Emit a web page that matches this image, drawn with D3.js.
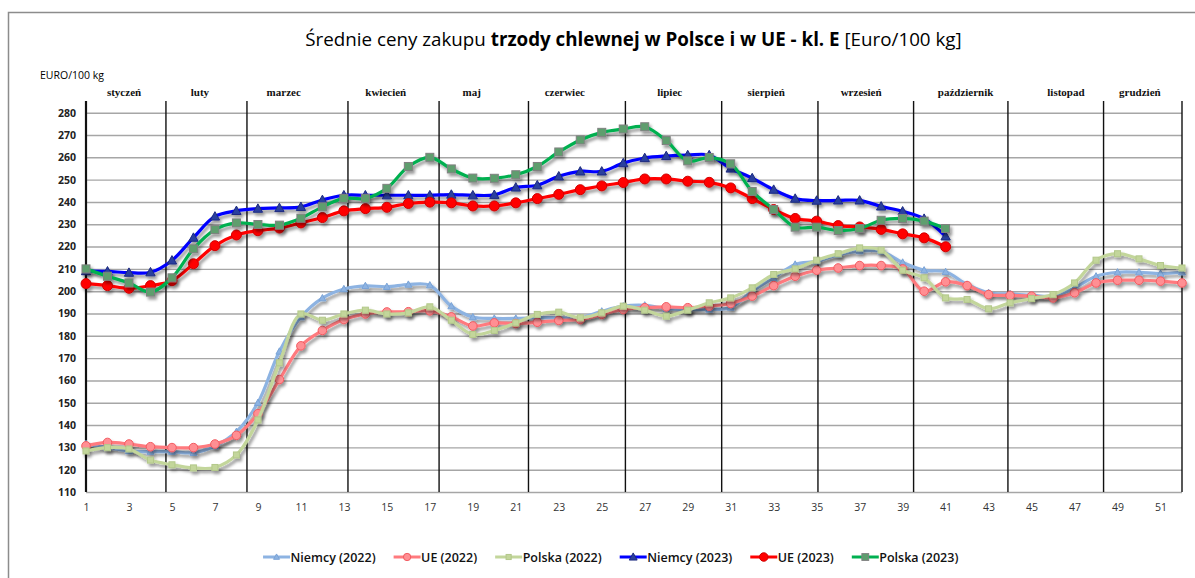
<!DOCTYPE html>
<html>
<head>
<meta charset="utf-8">
<script src="https://cdn.jsdelivr.net/npm/d3@7"></script>
<style>
  body { margin: 0; background: #fff; }
  svg { display: block; font-family: "Open Sans", sans-serif; }
</style>
</head>
<body>
<div class="chart"></div>
<script>
// --- data (weekly prices, EURO/100 kg) ---
const niemcy2022 = [131.6, 129.9, 128.4, 128.1, 128.1, 127.6, 130.6, 137, 150, 173, 188.4, 196.9, 201, 202.4, 202, 203, 202.7, 193.3, 188.4, 187.8, 187.8, 188.1, 188.1, 188.1, 191, 193.3, 193.7, 192.2, 191.8, 191.8, 192.7, 200, 206, 212, 213.4, 216.4, 218, 217.9, 212.9, 209.4, 208.7, 203, 199.3, 198.8, 198.2, 197.8, 201.5, 206.7, 208.5, 208.5, 207.9, 208.5];
const ue2022 = [130.7, 132.2, 131.5, 130.3, 129.9, 129.9, 131.5, 135.4, 145.1, 160.4, 175.5, 182.4, 187.3, 189.8, 190.7, 190.8, 191.2, 188.5, 184.4, 185.8, 185.5, 186.1, 186.9, 187.3, 189.6, 191.8, 192.6, 193, 192.6, 193.3, 194.5, 197.8, 202.5, 206.7, 209.4, 210.4, 211.5, 211.5, 210, 200, 204.2, 202.5, 198.5, 198.1, 197.8, 197, 199.3, 203.7, 204.9, 204.9, 204.5, 203.7];
const polska2022 = [128.4, 129.9, 129.3, 124.3, 122.2, 120.8, 121, 126.6, 142.3, 167.9, 189.8, 187, 189.8, 191.5, 189.8, 190.3, 193, 187, 180.6, 182.4, 185.8, 189.6, 190.6, 188.1, 190.3, 193.3, 191.5, 188.8, 191.5, 194.8, 197, 201.5, 207.5, 210, 213.9, 216.8, 219.4, 218.4, 209.4, 206, 197, 196.3, 192.1, 194.8, 196.7, 198.5, 203.7, 213.9, 216.8, 214.5, 211.5, 210.4];
const niemcy2023 = [209, 208.9, 208.3, 208.5, 213.8, 224, 233.5, 236, 237, 237.3, 237.8, 240.9, 243, 243, 243, 243, 243, 243.3, 243, 243.2, 246.5, 247.5, 251.5, 253.7, 253.7, 257.4, 259.7, 260.6, 261, 261, 255, 250.7, 245.5, 241.5, 240.6, 240.7, 240.7, 238, 235.8, 232.5, 224.6];
const ue2023 = [203.4, 202.5, 201.3, 202.5, 204.7, 212.3, 220.4, 225.2, 227.1, 228.3, 230.6, 233, 236, 237, 237.6, 239.3, 239.9, 239.6, 238.2, 238.2, 239.6, 241.5, 243.4, 245.5, 247.2, 248.7, 250.3, 250.3, 249.3, 248.8, 246.3, 241.5, 236.6, 232.6, 231.4, 229.4, 228.8, 227.7, 225.7, 223.9, 219.9];
const polska2023 = [210, 206.7, 203.7, 199.6, 206, 219, 227.6, 230.6, 229.9, 229.6, 232.7, 237.8, 241.6, 241.6, 246.1, 255.9, 260, 254.8, 250.7, 250.6, 252.2, 255.9, 262.4, 267.8, 271.2, 272.7, 273.7, 267.5, 258.4, 259.9, 257.1, 244.7, 236.6, 228.7, 228.7, 227.2, 228.1, 231.8, 232.6, 231.4, 228.1];

const seriesNames = ["Niemcy (2022)", "UE (2022)", "Polska (2022)", "Niemcy (2023)", "UE (2023)", "Polska (2023)"];
const months = ["styczeń", "luty", "marzec", "kwiecień", "maj", "czerwiec", "lipiec", "sierpień", "wrzesień", "październik", "listopad", "grudzień"];
// month label centres and month boundaries, in week units
const monthLabelWeek = [2.77, 6.3, 10.2, 14.95, 18.95, 23.28, 28.16, 32.65, 37.07, 41.93, 46.6, 50.04];
const monthBounds = [1, 4.72, 8.49, 13.19, 17.43, 21.59, 26.1, 30.58, 35.06, 39.51, 43.9, 48.35, 52];
const yTicks = [110, 120, 130, 140, 150, 160, 170, 180, 190, 200, 210, 220, 230, 240, 250, 260, 270, 280];
const xTicks = [1, 3, 5, 7, 9, 11, 13, 15, 17, 19, 21, 23, 25, 27, 29, 31, 33, 35, 37, 39, 41, 43, 45, 47, 49, 51];

const W = 1195, H = 578;
const plot = { left: 86, right: 1182, top: 112.7, bottom: 492 };

const series = [
	{ name: seriesNames[0], values: niemcy2022, color: "#8db3e2", width: 3.2, shape: "tri", size: 6, fill: "#8db3e2", stroke: "#7aa3d6" },
	{ name: seriesNames[1], values: ue2022, color: "#ff7a7e", width: 3.2, shape: "circle", size: 4.3, fill: "#ff8f93", stroke: "#f25a60" },
	{ name: seriesNames[2], values: polska2022, color: "#c3d69b", width: 3.2, shape: "square", size: 6, fill: "#c3d69b", stroke: "#b3c88a" },
	{ name: seriesNames[3], values: niemcy2023, color: "#0000ff", width: 3.2, shape: "tri", size: 8, fill: "#2b3f9e", stroke: "#1c2a80" },
	{ name: seriesNames[4], values: ue2023, color: "#ff0000", width: 3.2, shape: "circle", size: 5, fill: "#ff0000", stroke: "#d00000" },
	{ name: seriesNames[5], values: polska2023, color: "#00b050", width: 3.2, shape: "square", size: 8, fill: "#5e9e6e", stroke: "#808080" }
];

const x = d3.scaleLinear().domain([1, 52]).range([plot.left, plot.right]);
const y = d3.scaleLinear().domain([110, 280]).range([plot.bottom, plot.top]);

const svg = d3.select(".chart").append("svg").attr("width", W).attr("height", H);

const defs = svg.append("defs");
const f = defs.append("filter").attr("id", "shadow").attr("x", "-5%").attr("y", "-20%").attr("width", "110%").attr("height", "140%");
f.append("feDropShadow").attr("dx", 2).attr("dy", 3).attr("stdDeviation", 1.5)
	.attr("flood-color", "#000").attr("flood-opacity", 0.4);

svg.append("rect").attr("width", W).attr("height", H).attr("fill", "#fff");

// outer frame
svg.append("rect")
	.attr("x", 8.5).attr("y", 12.5).attr("width", 1300).attr("height", 700)
	.attr("fill", "none").attr("stroke", "#8c8c8c").attr("stroke-width", 1.5);

// title
const title = svg.append("text")
	.attr("x", 633.5).attr("y", 46)
	.attr("text-anchor", "middle")
	.attr("font-size", 20)
	.attr("fill", "#000");
title.append("tspan").text("Średnie ceny zakupu ");
title.append("tspan").attr("font-weight", "bold").text("trzody chlewnej w Polsce i w UE - kl. E");
title.append("tspan").text(" [Euro/100 kg]");
const tw = title.node().getComputedTextLength();
title.attr("font-size", 20 * 657 / tw);

svg.append("text")
	.attr("x", 40).attr("y", 79)
	.attr("font-size", 10.5)
	.attr("fill", "#000")
	.text("EURO/100 kg");

// horizontal gridlines
svg.append("g")
	.attr("class", "grid")
	.attr("transform", `translate(${plot.left},0)`)
	.call(d3.axisLeft(y).tickValues(yTicks).tickSize(-(plot.right - plot.left)).tickFormat(""))
	.call((g) => g.select(".domain").remove())
	.call((g) => g.selectAll("line").attr("stroke", "#a6a6a6").attr("stroke-width", 1.4));

// month boundaries
svg.append("g")
	.selectAll("line")
	.data(monthBounds)
	.enter()
	.append("line")
	.attr("x1", (d) => x(d)).attr("x2", (d) => x(d))
	.attr("y1", 101).attr("y2", plot.bottom)
	.attr("stroke", "#111")
	.attr("stroke-width", (d, i) => (i === 0 ? 2.2 : 1.4));

svg.append("g")
	.selectAll("text")
	.data(months)
	.enter()
	.append("text")
	.attr("x", (d, i) => x(monthLabelWeek[i]))
	.attr("y", 96)
	.attr("text-anchor", "middle")
	.attr("font-family", "'Liberation Serif', serif")
	.attr("font-weight", "bold")
	.attr("font-size", 11)
	.attr("fill", "#111")
	.text((d) => d);

// y axis labels
const yAxis = d3.axisLeft(y).tickValues(yTicks).tickSize(0).tickPadding(10);
svg.append("g")
	.attr("class", "axis y-axis")
	.attr("transform", `translate(${plot.left},0)`)
	.call(yAxis)
	.call((g) => g.select(".domain").remove())
	.call((g) => g.selectAll("text")
		.attr("font-family", "'Open Sans', sans-serif")
		.attr("font-weight", "bold")
		.attr("font-size", 10.5)
		.attr("fill", "#222"));

// x axis labels
const xAxis = d3.axisBottom(x).tickValues(xTicks).tickSize(0).tickPadding(12);
svg.append("g")
	.attr("class", "axis x-axis")
	.attr("transform", `translate(0,${plot.bottom})`)
	.call(xAxis)
	.call((g) => g.select(".domain").remove())
	.call((g) => g.selectAll("text")
		.attr("font-family", "'Open Sans', sans-serif")
		.attr("font-size", 10.5)
		.attr("fill", "#333"));

const line = d3.line()
	.x((d, i) => x(i + 1))
	.y((d) => y(d))
	.curve(d3.curveCatmullRom.alpha(0.5));

function marker(sel, s) {
	if (s.shape === "circle") {
		sel.append("circle").attr("r", s.size);
	} else if (s.shape === "square") {
		sel.append("rect").attr("x", -s.size / 2).attr("y", -s.size / 2)
			.attr("width", s.size).attr("height", s.size);
	} else {
		const h = s.size;
		sel.append("path").attr("d", `M0,${-h * 0.6}L${h * 0.58},${h * 0.45}L${-h * 0.58},${h * 0.45}Z`);
	}
	sel.selectAll("*").attr("fill", s.fill).attr("stroke", s.stroke).attr("stroke-width", 1);
}

series.forEach((s) => {
	const g = svg.append("g").attr("filter", "url(#shadow)");
	g.append("path")
		.datum(s.values)
		.attr("d", line)
		.attr("fill", "none")
		.attr("stroke", s.color)
		.attr("stroke-width", s.width)
		.attr("stroke-linejoin", "round");
	g.selectAll("g.pt")
		.data(s.values)
		.enter()
		.append("g")
		.attr("class", "pt")
		.attr("transform", (d, i) => `translate(${x(i + 1)},${y(d)})`)
		.each(function () { marker(d3.select(this), s); });
});

// legend
const legend = svg.append("g").attr("class", "legend");
let lx = 0;
const items = [];
series.forEach((s) => {
	const it = legend.append("g");
	it.append("line").attr("x1", 0).attr("x2", 27).attr("y1", 0).attr("y2", 0)
		.attr("stroke", s.color).attr("stroke-width", 3);
	const m = it.append("g").attr("transform", "translate(13.5,0)");
	marker(m, Object.assign({}, s, { size: s.size * 0.85 }));
	const t = it.append("text").attr("x", 27.5).attr("y", 4.5)
		.attr("font-size", 12.5).attr("font-weight", 600).attr("fill", "#111")
		.text(s.name);
	const w = 27.5 + t.node().getComputedTextLength();
	items.push({ it, lx });
	lx += w + 18;
});
const total = lx - 18;
const lstart = 610.7 - total / 2;
items.forEach((d) => d.it.attr("transform", `translate(${lstart + d.lx},557)`));
</script>
</body>
</html>
